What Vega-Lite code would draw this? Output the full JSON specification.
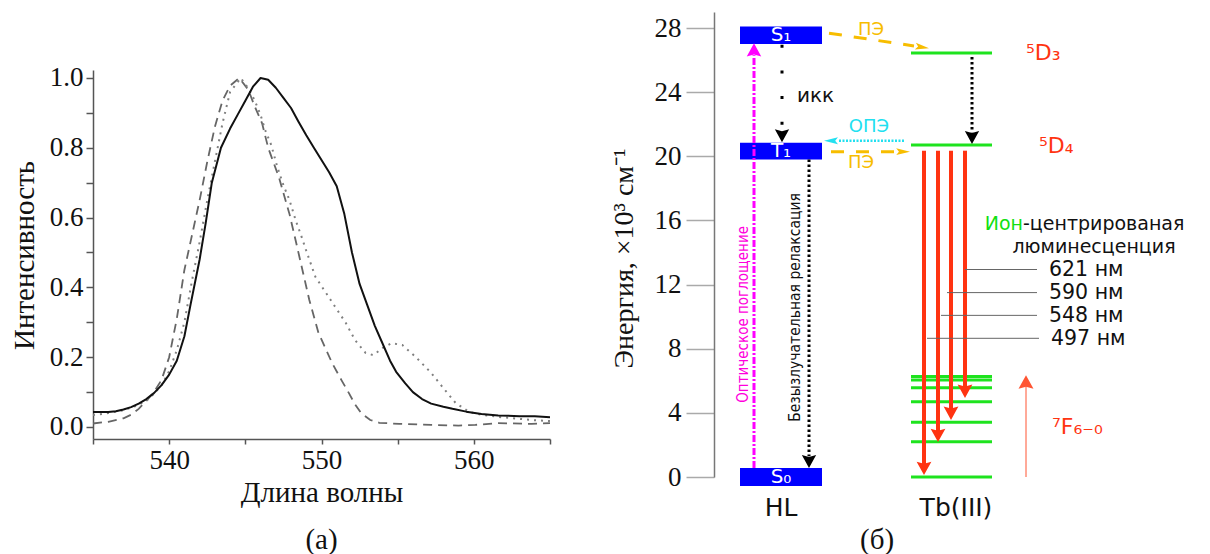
{
"$schema":"https://vega.github.io/schema/vega-lite/v6.json",
"padding":{"left":10,"top":12,"right":0,"bottom":0},
"background":"white",
"config":{"view":{"stroke":null},"axis":{"grid":false}},
"spacing":164,
"bounds":"flush",
"resolve":{"scale":{"color":"independent","size":"independent"}},
"datasets":{
"spectra":[
{"s":"A","nm":535,"v":0.043},{"s":"A","nm":536,"v":0.043},{"s":"A","nm":536.5,"v":0.045},{"s":"A","nm":537,"v":0.05},{"s":"A","nm":537.5,"v":0.057},{"s":"A","nm":538,"v":0.067},{"s":"A","nm":538.5,"v":0.08},{"s":"A","nm":539,"v":0.097},{"s":"A","nm":539.5,"v":0.12},{"s":"A","nm":540,"v":0.15},{"s":"A","nm":540.5,"v":0.19},{"s":"A","nm":541,"v":0.26},{"s":"A","nm":541.4,"v":0.35},{"s":"A","nm":542,"v":0.48},{"s":"A","nm":542.4,"v":0.585},{"s":"A","nm":542.8,"v":0.7},{"s":"A","nm":543.4,"v":0.8},{"s":"A","nm":544,"v":0.855},{"s":"A","nm":544.5,"v":0.895},{"s":"A","nm":545,"v":0.935},{"s":"A","nm":545.5,"v":0.975},{"s":"A","nm":546,"v":1.0},{"s":"A","nm":546.5,"v":0.995},{"s":"A","nm":547,"v":0.972},{"s":"A","nm":547.5,"v":0.943},{"s":"A","nm":548,"v":0.914},{"s":"A","nm":548.5,"v":0.874},{"s":"A","nm":549,"v":0.836},{"s":"A","nm":549.5,"v":0.8},{"s":"A","nm":550,"v":0.765},{"s":"A","nm":550.5,"v":0.73},{"s":"A","nm":551,"v":0.69},{"s":"A","nm":551.5,"v":0.61},{"s":"A","nm":552,"v":0.5},{"s":"A","nm":552.5,"v":0.41},{"s":"A","nm":553,"v":0.35},{"s":"A","nm":553.5,"v":0.29},{"s":"A","nm":554,"v":0.24},{"s":"A","nm":554.5,"v":0.19},{"s":"A","nm":554.9,"v":0.158},{"s":"A","nm":555.5,"v":0.125},{"s":"A","nm":556,"v":0.1},{"s":"A","nm":556.6,"v":0.08},{"s":"A","nm":557.2,"v":0.067},{"s":"A","nm":558,"v":0.058},{"s":"A","nm":558.6,"v":0.052},{"s":"A","nm":559.5,"v":0.044},{"s":"A","nm":560.5,"v":0.037},{"s":"A","nm":561.6,"v":0.033},{"s":"A","nm":563,"v":0.031},{"s":"A","nm":564,"v":0.031},{"s":"A","nm":565,"v":0.028},
{"s":"B","nm":535,"v":0.01},{"s":"B","nm":536,"v":0.015},{"s":"B","nm":537,"v":0.025},{"s":"B","nm":537.5,"v":0.035},{"s":"B","nm":538,"v":0.052},{"s":"B","nm":538.5,"v":0.075},{"s":"B","nm":539,"v":0.1},{"s":"B","nm":539.5,"v":0.135},{"s":"B","nm":540,"v":0.2},{"s":"B","nm":540.5,"v":0.31},{"s":"B","nm":541,"v":0.45},{"s":"B","nm":541.5,"v":0.55},{"s":"B","nm":542,"v":0.65},{"s":"B","nm":542.5,"v":0.76},{"s":"B","nm":543,"v":0.86},{"s":"B","nm":543.5,"v":0.935},{"s":"B","nm":544,"v":0.978},{"s":"B","nm":544.6,"v":1.0},{"s":"B","nm":545.2,"v":0.966},{"s":"B","nm":545.6,"v":0.92},{"s":"B","nm":546.1,"v":0.87},{"s":"B","nm":546.5,"v":0.8},{"s":"B","nm":547.2,"v":0.716},{"s":"B","nm":547.9,"v":0.61},{"s":"B","nm":548.4,"v":0.516},{"s":"B","nm":548.8,"v":0.44},{"s":"B","nm":549.2,"v":0.364},{"s":"B","nm":549.8,"v":0.27},{"s":"B","nm":550.7,"v":0.183},{"s":"B","nm":551.3,"v":0.135},{"s":"B","nm":551.8,"v":0.097},{"s":"B","nm":552.2,"v":0.065},{"s":"B","nm":552.6,"v":0.04},{"s":"B","nm":553.2,"v":0.02},{"s":"B","nm":553.8,"v":0.012},{"s":"B","nm":555.1,"v":0.009},{"s":"B","nm":557.2,"v":0.006},{"s":"B","nm":559,"v":0.004},{"s":"B","nm":560.1,"v":0.006},{"s":"B","nm":561.6,"v":0.011},{"s":"B","nm":563.8,"v":0.009},{"s":"B","nm":565,"v":0.011},
{"s":"C","nm":535,"v":0.034},{"s":"C","nm":536,"v":0.04},{"s":"C","nm":537,"v":0.048},{"s":"C","nm":537.8,"v":0.06},{"s":"C","nm":538.5,"v":0.075},{"s":"C","nm":539,"v":0.095},{"s":"C","nm":539.5,"v":0.12},{"s":"C","nm":540,"v":0.16},{"s":"C","nm":540.5,"v":0.22},{"s":"C","nm":541,"v":0.3},{"s":"C","nm":541.5,"v":0.42},{"s":"C","nm":542,"v":0.53},{"s":"C","nm":542.5,"v":0.65},{"s":"C","nm":543,"v":0.76},{"s":"C","nm":543.5,"v":0.87},{"s":"C","nm":544,"v":0.96},{"s":"C","nm":544.7,"v":1.0},{"s":"C","nm":545.2,"v":0.97},{"s":"C","nm":545.6,"v":0.937},{"s":"C","nm":546,"v":0.894},{"s":"C","nm":546.3,"v":0.851},{"s":"C","nm":546.7,"v":0.808},{"s":"C","nm":547.1,"v":0.745},{"s":"C","nm":547.5,"v":0.693},{"s":"C","nm":547.9,"v":0.65},{"s":"C","nm":548.3,"v":0.593},{"s":"C","nm":548.7,"v":0.544},{"s":"C","nm":549,"v":0.505},{"s":"C","nm":549.6,"v":0.43},{"s":"C","nm":550.3,"v":0.384},{"s":"C","nm":550.9,"v":0.344},{"s":"C","nm":551.6,"v":0.298},{"s":"C","nm":552.2,"v":0.249},{"s":"C","nm":552.9,"v":0.212},{"s":"C","nm":553.4,"v":0.206},{"s":"C","nm":554,"v":0.226},{"s":"C","nm":554.6,"v":0.24},{"s":"C","nm":555.3,"v":0.235},{"s":"C","nm":556.2,"v":0.2},{"s":"C","nm":557.2,"v":0.155},{"s":"C","nm":558.1,"v":0.106},{"s":"C","nm":558.8,"v":0.069},{"s":"C","nm":559.7,"v":0.043},{"s":"C","nm":560.5,"v":0.035},{"s":"C","nm":561.6,"v":0.029},{"s":"C","nm":563.8,"v":0.02},{"s":"C","nm":565,"v":0.017}
],
"boxes":[
{"st":"S1","pos":26,"pos2":108,"e":27.0,"e2":28.1},
{"st":"T1","pos":26,"pos2":108,"e":19.8,"e2":20.85},
{"st":"S0","pos":26,"pos2":108,"e":-0.56,"e2":0.56}
],
"levels":[
{"term":"5D3","pos":197,"pos2":278,"e":26.45},
{"term":"5D4","pos":197,"pos2":278,"e":20.7},
{"term":"7F0","pos":197,"pos2":278,"e":6.26},
{"term":"7F1","pos":197,"pos2":278,"e":6.05},
{"term":"7F2","pos":197,"pos2":278,"e":5.57},
{"term":"7F3","pos":197,"pos2":278,"e":4.69},
{"term":"7F4","pos":197,"pos2":278,"e":3.41},
{"term":"7F5","pos":197,"pos2":278,"e":2.2},
{"term":"7F6","pos":197,"pos2":278,"e":0}
],
"paths":[
{"id":"abs","kind":"absorb","ord":0,"pos":40,"e":0.56},{"id":"abs","kind":"absorb","ord":1,"pos":40,"e":26.3},
{"id":"ikk","kind":"ikk","ord":0,"pos":68,"e":26.95},{"id":"ikk","kind":"ikk","ord":1,"pos":68,"e":21.5},
{"id":"relax","kind":"dots","ord":0,"pos":95,"e":19.8},{"id":"relax","kind":"dots","ord":1,"pos":95,"e":1.3},
{"id":"d3d4","kind":"dots","ord":0,"pos":258,"e":26.2},{"id":"d3d4","kind":"dots","ord":1,"pos":258,"e":21.5},
{"id":"pe1","kind":"pe","ord":0,"pos":115,"e":27.68},{"id":"pe1","kind":"pe","ord":1,"pos":200,"e":26.88},
{"id":"pe2","kind":"pe","ord":0,"pos":117,"e":20.29},{"id":"pe2","kind":"pe","ord":1,"pos":188,"e":20.29},
{"id":"ope","kind":"ope","ord":0,"pos":190,"e":20.97},{"id":"ope","kind":"ope","ord":1,"pos":124,"e":20.97},
{"id":"em1","kind":"emit","ord":0,"pos":210,"e":20.35},{"id":"em1","kind":"emit","ord":1,"pos":210,"e":0.8},
{"id":"em2","kind":"emit","ord":0,"pos":224,"e":20.35},{"id":"em2","kind":"emit","ord":1,"pos":224,"e":2.85},
{"id":"em3","kind":"emit","ord":0,"pos":237,"e":20.35},{"id":"em3","kind":"emit","ord":1,"pos":237,"e":4.2},
{"id":"em4","kind":"emit","ord":0,"pos":251,"e":20.35},{"id":"em4","kind":"emit","ord":1,"pos":251,"e":5.6},
{"id":"f7","kind":"thin","ord":0,"pos":312,"e":0},{"id":"f7","kind":"thin","ord":1,"pos":312,"e":6.0},
{"id":"l621","kind":"leader","ord":0,"pos":251,"e":12.94},{"id":"l621","kind":"leader","ord":1,"pos":323,"e":12.94},
{"id":"l590","kind":"leader","ord":0,"pos":233,"e":11.5},{"id":"l590","kind":"leader","ord":1,"pos":323,"e":11.5},
{"id":"l548","kind":"leader","ord":0,"pos":227,"e":10.08},{"id":"l548","kind":"leader","ord":1,"pos":323,"e":10.08},
{"id":"l497","kind":"leader","ord":0,"pos":213,"e":8.65},{"id":"l497","kind":"leader","ord":1,"pos":325,"e":8.65}
],
"heads":[
{"id":"abs","kind":"magenta","pos":40,"e":27.05,"dir":270},
{"id":"ikk","kind":"black","pos":68,"e":20.88,"dir":90},
{"id":"relax","kind":"black","pos":95,"e":0.56,"dir":90},
{"id":"d3d4","kind":"black","pos":258,"e":20.77,"dir":90},
{"id":"pe1","kind":"pe","pos":215,"e":26.74,"dir":8.5},
{"id":"pe2","kind":"pe","pos":196,"e":20.29,"dir":0},
{"id":"ope","kind":"ope","pos":110,"e":20.97,"dir":180},
{"id":"em1","kind":"red","pos":210,"e":0.12,"dir":90},
{"id":"em2","kind":"red","pos":224,"e":2.18,"dir":90},
{"id":"em3","kind":"red","pos":237,"e":3.56,"dir":90},
{"id":"em4","kind":"red","pos":251,"e":4.93,"dir":90},
{"id":"f7","kind":"thin","pos":312,"e":6.35,"dir":270}
],
"labels":[
{"txt":"S₁","role":"state","pos":67,"e":27.55},
{"txt":"T₁","role":"state","pos":67,"e":20.32},
{"txt":"S₀","role":"state","pos":67,"e":0},
{"txt":"HL","role":"column","pos":67,"e":-1.93},
{"txt":"Tb(III)","role":"column","pos":242,"e":-1.93},
{"txt":"икк","role":"note","pos":83,"e":23.77},
{"txt":"ПЭ","role":"pe","pos":157,"e":27.88},
{"txt":"ПЭ","role":"pe","pos":147,"e":19.59},
{"txt":"ОПЭ","role":"ope","pos":155,"e":21.83},
{"txt":"⁵D₃","role":"term","pos":312,"e":26.45},
{"txt":"⁵D₄","role":"term","pos":325,"e":20.65},
{"txt":"⁷F₆₋₀","role":"term","pos":338,"e":3.12},
{"txt":"Ион","role":"ionA","pos":309,"e":15.8},
{"txt":"-центрированая","role":"ionB","pos":309,"e":15.8},
{"txt":"люминесценция","role":"lum","pos":380,"e":14.35},
{"txt":"621 нм","role":"nm","pos":335,"e":12.91},
{"txt":"590 нм","role":"nm","pos":335,"e":11.45},
{"txt":"548 нм","role":"nm","pos":335,"e":10.05},
{"txt":"497 нм","role":"nm","pos":337,"e":8.62},
{"txt":"Оптическое поглощение","role":"vmag","pos":28.5,"e":10.14},
{"txt":"Безызлучательная релаксация","role":"vblack","pos":81,"e":10.57},
{"txt":"(б)","role":"panel","pos":163,"e":-3.93}
]
},
"hconcat":[
{
"width":457,"height":427,
"encoding":{
"x":{"field":"nm","type":"quantitative","scale":{"domain":[535,565],"nice":false,"zero":false},
"axis":{"values":[535,540,545,550,555,560,565],"labelExpr":"datum.value % 10 == 0 ? datum.label : ''","title":"Длина волны","titleFont":"Liberation Serif","titleFontSize":29,"titleFontWeight":"normal","titleColor":"#111","titleY":53,"titleBaseline":"middle","labelFont":"Liberation Serif","labelFontSize":27,"labelColor":"#111","labelPadding":3,"tickSize":5,"tickColor":"#555","tickWidth":1.5,"domainColor":"#555","domainWidth":1.5,"labelFlush":false,"labelOverlap":false}},
"y":{"field":"v","type":"quantitative","scale":{"domain":[-0.0344,1.0229],"range":[427,58],"nice":false,"zero":false},
"axis":{"values":[0,0.1,0.2,0.3,0.4,0.5,0.6,0.7,0.8,0.9,1.0],"labelExpr":"round(datum.value*10) % 2 == 0 ? format(datum.value,'.1f') : ''","title":"Интенсивность","titleFont":"Liberation Serif","titleFontSize":29,"titleFontWeight":"normal","titleColor":"#111","titleX":-69,"titleY":243,"titleAngle":270,"titleBaseline":"middle","titleAlign":"center","labelFont":"Liberation Serif","labelFontSize":27,"labelColor":"#111","labelPadding":3,"tickSize":7,"tickColor":"#555","tickWidth":1.5,"domainColor":"#555","domainWidth":1.5,"labelFlush":false,"labelOverlap":false}}
},
"layer":[
{"data":{"name":"spectra"},"transform":[{"filter":"datum.s == 'B'"}],"mark":{"type":"line","color":"#666666","strokeWidth":1.8,"strokeDash":[9,6]}},
{"data":{"name":"spectra"},"transform":[{"filter":"datum.s == 'C'"}],"mark":{"type":"line","color":"#808080","strokeWidth":2,"strokeDash":[2,5]}},
{"data":{"name":"spectra"},"transform":[{"filter":"datum.s == 'A'"}],"mark":{"type":"line","color":"#111111","strokeWidth":2,"strokeJoin":"round"}},
{"data":{"values":[{"txt":"(а)","nm":550,"v":-0.324}]},"mark":{"type":"text","font":"Liberation Serif","fontSize":29,"baseline":"middle","align":"center","color":"#111"},
"encoding":{"text":{"field":"txt"}}}
]
},
{
"width":495,"height":465,
"encoding":{
"x":{"field":"pos","type":"quantitative","scale":{"domain":[0,495],"nice":false,"zero":false},"axis":null},
"y":{"field":"e","type":"quantitative","scale":{"domain":[0,29],"nice":false,"zero":false},
"axis":{"values":[0,4,8,12,16,20,24,28],"title":"Энергия, ×10³ см⁻¹","titleFont":"Liberation Serif","titleFontSize":28,"titleFontWeight":"normal","titleColor":"#111","titleX":-90,"titleY":246,"titleAngle":270,"titleBaseline":"middle","titleAlign":"center","labelFont":"Liberation Serif","labelFontSize":27,"labelColor":"#111","labelPadding":5,"tickSize":28,"tickColor":"#aaaaaa","tickWidth":1.5,"domainColor":"#777777","domainWidth":1.5,"labelFlush":false,"labelOverlap":false}}
},
"layer":[
{"data":{"name":"levels"},"mark":{"type":"rule","color":"#1ee31e","strokeWidth":3},"encoding":{"x2":{"field":"pos2"}}},
{"data":{"name":"boxes"},"mark":{"type":"rect","color":"#0000ff"},"encoding":{"x2":{"field":"pos2"},"y2":{"field":"e2"}}},
{"data":{"name":"paths"},"transform":[{"filter":"datum.kind == 'absorb'"}],"mark":{"type":"line","color":"#ff00ff","strokeWidth":3,"strokeDash":[7,2,2,2]},"encoding":{"detail":{"field":"id"},"order":{"field":"ord"}}},
{"data":{"name":"paths"},"transform":[{"filter":"datum.kind == 'ikk'"}],"mark":{"type":"line","color":"#000000","strokeWidth":3,"strokeDash":[3,22.6]},"encoding":{"detail":{"field":"id"},"order":{"field":"ord"}}},
{"data":{"name":"paths"},"transform":[{"filter":"datum.kind == 'dots'"}],"mark":{"type":"line","color":"#000000","strokeWidth":3,"strokeDash":[2.5,2.5]},"encoding":{"detail":{"field":"id"},"order":{"field":"ord"}}},
{"data":{"name":"paths"},"transform":[{"filter":"datum.kind == 'pe'"}],"mark":{"type":"line","color":"#f7bd00","strokeWidth":3,"strokeDash":[13,12]},"encoding":{"detail":{"field":"id"},"order":{"field":"ord"}}},
{"data":{"name":"paths"},"transform":[{"filter":"datum.kind == 'ope'"}],"mark":{"type":"line","color":"#22e0f0","strokeWidth":2.5,"strokeDash":[2,1.5]},"encoding":{"detail":{"field":"id"},"order":{"field":"ord"}}},
{"data":{"name":"paths"},"transform":[{"filter":"datum.kind == 'emit'"}],"mark":{"type":"line","color":"#ff3311","strokeWidth":4},"encoding":{"detail":{"field":"id"},"order":{"field":"ord"}}},
{"data":{"name":"paths"},"transform":[{"filter":"datum.kind == 'thin'"}],"mark":{"type":"line","color":"#ff5533","strokeWidth":1},"encoding":{"detail":{"field":"id"},"order":{"field":"ord"}}},
{"data":{"name":"paths"},"transform":[{"filter":"datum.kind == 'leader'"}],"mark":{"type":"line","color":"#666666","strokeWidth":1},"encoding":{"detail":{"field":"id"},"order":{"field":"ord"}}},
{"data":{"name":"heads"},"transform":[{"filter":"datum.kind != 'pe' && datum.kind != 'ope'"}],
"mark":{"type":"point","filled":true,"opacity":1,"strokeWidth":0,"shape":"M0,0L-2,-1.1L-1.7,0L-2,1.1Z"},
"encoding":{"angle":{"field":"dir","type":"quantitative","scale":null},
"color":{"field":"kind","type":"nominal","scale":{"domain":["black","magenta","red","thin","pe","ope"],"range":["#000000","#ff00ff","#ff3311","#ff5533","#f7bd00","#22e0f0"]},"legend":null},
"size":{"field":"kind","type":"nominal","scale":{"domain":["black","magenta","red","thin","pe","ope"],"range":[169,196,225,36,484,484]},"legend":null}}},
{"data":{"name":"heads"},"transform":[{"filter":"datum.kind == 'pe' || datum.kind == 'ope'"}],
"mark":{"type":"point","filled":true,"opacity":1,"strokeWidth":0,"shape":"M0,0L-2,-0.5L-1.6,0L-2,0.5Z"},
"encoding":{"angle":{"field":"dir","type":"quantitative","scale":null},
"color":{"field":"kind","type":"nominal","scale":{"domain":["black","magenta","red","thin","pe","ope"],"range":["#000000","#ff00ff","#ff3311","#ff5533","#f7bd00","#22e0f0"]},"legend":null},
"size":{"field":"kind","type":"nominal","scale":{"domain":["black","magenta","red","thin","pe","ope"],"range":[169,196,225,36,484,484]},"legend":null}}},
{"data":{"name":"labels"},"transform":[{"filter":"datum.role == 'state'"}],"mark":{"type":"text","font":"DejaVu Sans","fontSize":20,"color":"#ffffff","align":"center","baseline":"middle"},"encoding":{"text":{"field":"txt"}}},
{"data":{"name":"labels"},"transform":[{"filter":"datum.role == 'column'"}],"mark":{"type":"text","font":"DejaVu Sans","fontSize":25,"color":"#111111","align":"center","baseline":"middle"},"encoding":{"text":{"field":"txt"}}},
{"data":{"name":"labels"},"transform":[{"filter":"datum.role == 'note'"}],"mark":{"type":"text","font":"DejaVu Sans","fontSize":20,"color":"#111111","align":"left","baseline":"middle"},"encoding":{"text":{"field":"txt"}}},
{"data":{"name":"labels"},"transform":[{"filter":"datum.role == 'nm'"}],"mark":{"type":"text","font":"DejaVu Sans","fontSize":20.5,"color":"#111111","align":"left","baseline":"middle"},"encoding":{"text":{"field":"txt"}}},
{"data":{"name":"labels"},"transform":[{"filter":"datum.role == 'term'"}],"mark":{"type":"text","font":"DejaVu Sans","fontSize":22,"color":"#ff3311","align":"left","baseline":"middle"},"encoding":{"text":{"field":"txt"}}},
{"data":{"name":"labels"},"transform":[{"filter":"datum.role == 'pe'"}],"mark":{"type":"text","font":"DejaVu Sans","fontSize":18,"color":"#f7bd00","align":"center","baseline":"middle"},"encoding":{"text":{"field":"txt"}}},
{"data":{"name":"labels"},"transform":[{"filter":"datum.role == 'ope'"}],"mark":{"type":"text","font":"DejaVu Sans","fontSize":18,"color":"#22e0f0","align":"center","baseline":"middle"},"encoding":{"text":{"field":"txt"}}},
{"data":{"name":"labels"},"transform":[{"filter":"datum.role == 'ionA'"}],"mark":{"type":"text","font":"DejaVu Sans","fontSize":19,"color":"#11e011","align":"right","baseline":"middle"},"encoding":{"text":{"field":"txt"}}},
{"data":{"name":"labels"},"transform":[{"filter":"datum.role == 'ionB'"}],"mark":{"type":"text","font":"DejaVu Sans","fontSize":19,"color":"#111111","align":"left","baseline":"middle"},"encoding":{"text":{"field":"txt"}}},
{"data":{"name":"labels"},"transform":[{"filter":"datum.role == 'lum'"}],"mark":{"type":"text","font":"DejaVu Sans","fontSize":19,"color":"#111111","align":"center","baseline":"middle"},"encoding":{"text":{"field":"txt"}}},
{"data":{"name":"labels"},"transform":[{"filter":"datum.role == 'vmag'"}],"mark":{"type":"text","font":"Liberation Sans Narrow, DejaVu Sans Condensed, sans-serif","fontSize":15,"color":"#ff00dd","align":"center","baseline":"middle","angle":270},"encoding":{"text":{"field":"txt"}}},
{"data":{"name":"labels"},"transform":[{"filter":"datum.role == 'vblack'"}],"mark":{"type":"text","font":"Liberation Sans Narrow, DejaVu Sans Condensed, sans-serif","fontSize":15.5,"color":"#111111","align":"center","baseline":"middle","angle":270},"encoding":{"text":{"field":"txt"}}},
{"data":{"name":"labels"},"transform":[{"filter":"datum.role == 'panel'"}],"mark":{"type":"text","font":"Liberation Serif","fontSize":29,"color":"#111111","align":"center","baseline":"middle"},"encoding":{"text":{"field":"txt"}}}
]
}
]
}
